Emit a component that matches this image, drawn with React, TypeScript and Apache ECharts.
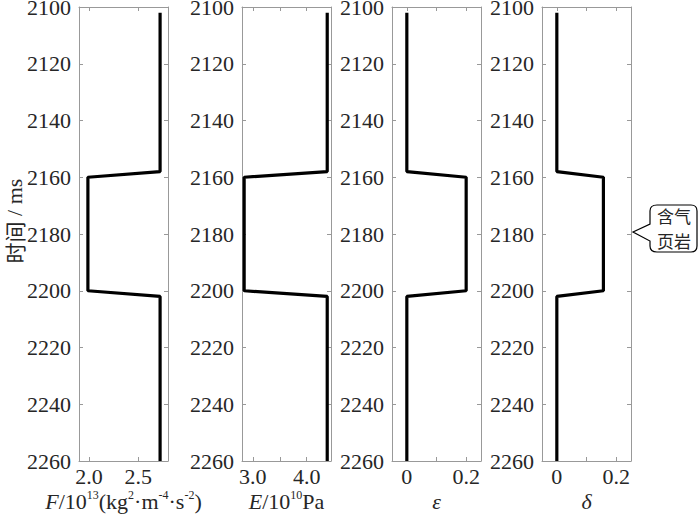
import React, { useEffect, useRef } from "react";
import * as echarts from "echarts";

const timeMs = [2102, 2158, 2160, 2200, 2202, 2260];
const fValues = [2.72, 2.72, 1.99, 1.99, 2.72, 2.72];
const eValues = [4.38, 4.38, 2.84, 2.84, 4.38, 4.38];
const epsValues = [0, 0, 0.2, 0.2, 0, 0];
const deltaValues = [0, 0, 0.157, 0.157, 0, 0];

const yTicks = { min: 2100, max: 2260, interval: 20 };

const panelRanges = [
  [1.9, 2.8],
  [2.8, 4.45],
  [-0.05, 0.25],
  [-0.05, 0.25],
];
const panelTicks = [
  [2.0, 2.5],
  [3.0, 3.5, 4.0],
  [0, 0.1, 0.2],
  [0, 0.1, 0.2],
];
const panelLabels = [
  [2.0, 2.5],
  [3.0, 4.0],
  [0, 0.2],
  [0, 0.2],
];
const labelDigits = [1, 1, -1, -1];
const panelNames = [
  "{i|F}{n|/10}{s|13}{n|(kg}{s|2}{n|·m}{s|-4}{n|·s}{s|-2}{n|)}",
  "{i|E}{n|/10}{s|10}{n|Pa}",
  "{i|ε}",
  "{i|δ}",
];
const panelSeries = [fValues, eValues, epsValues, deltaValues];
const gridLefts = [79, 242, 392, 542];

const SERIF = "'Liberation Serif', 'Times New Roman', serif";
const CJK = "Noto Sans CJK SC";
const FRAME = "#999";
const TEXT = "#262626";

const calloutPath =
  "M657,205 H691 Q697,205 697,211 V246 Q697,252 691,252 H657 Q650,252 650,246 V241 L633,232 L650,224 V211 Q650,205 657,205 Z";

export default function App() {
  const ref = useRef<HTMLDivElement>(null);
  useEffect(() => {
    if (!ref.current) return;
    try {
      echarts.graphic.registerShape("callout", echarts.graphic.extendPath(calloutPath, {}));
    } catch (e) {}
    const chart = echarts.init(ref.current, null, { renderer: "svg" });
    const grids: any[] = [];
    const xAxes: any[] = [];
    const yAxes: any[] = [];
    const series: any[] = [];
    const rich = {
      i: { fontFamily: SERIF, fontSize: 22, fontStyle: "italic", color: TEXT, lineHeight: 24, verticalAlign: "middle" },
      n: { fontFamily: SERIF, fontSize: 22, color: TEXT, lineHeight: 24, verticalAlign: "middle" },
      s: { fontFamily: SERIF, fontSize: 12, color: TEXT, lineHeight: 14, verticalAlign: "top" },
    };
    for (let k = 0; k < 4; k++) {
      grids.push({
        left: gridLefts[k],
        top: 7,
        width: 89,
        height: 454,
        show: false,
        containLabel: false,
        outerBoundsMode: "none",
      });
      const d = labelDigits[k];
      const fmt = (v: number) => (d > 0 ? v.toFixed(d) : String(Math.round(v * 10) / 10));
      xAxes.push({
        gridIndex: k,
        type: "value",
        position: "bottom",
        min: panelRanges[k][0],
        max: panelRanges[k][1],
        axisLine: { show: true, onZero: false, lineStyle: { color: FRAME, width: 1 } },
        axisTick: { show: true, inside: true, length: 4, customValues: panelTicks[k], lineStyle: { color: FRAME } },
        axisLabel: {
          show: true,
          customValues: panelLabels[k],
          formatter: fmt,
          fontFamily: SERIF,
          fontSize: 22,
          color: TEXT,
          margin: 4,
        },
        splitLine: { show: false },
        name: panelNames[k],
        nameLocation: "middle",
        nameGap: 28,
        nameMoveOverlap: false,
        nameTextStyle: { rich, fontFamily: SERIF, fontSize: 22, color: TEXT },
      });
      xAxes.push({
        gridIndex: k,
        type: "value",
        position: "top",
        min: panelRanges[k][0],
        max: panelRanges[k][1],
        axisLine: { show: true, onZero: false, lineStyle: { color: FRAME, width: 1 } },
        axisTick: { show: true, inside: true, length: 4, customValues: panelTicks[k], lineStyle: { color: FRAME } },
        axisLabel: { show: false },
        splitLine: { show: false },
      });
      yAxes.push({
        gridIndex: k,
        type: "value",
        position: "left",
        inverse: true,
        min: yTicks.min,
        max: yTicks.max,
        interval: yTicks.interval,
        axisLine: { show: true, onZero: false, lineStyle: { color: FRAME, width: 1 } },
        axisTick: { show: true, inside: true, length: 4, lineStyle: { color: FRAME } },
        axisLabel: {
          show: true,
          fontFamily: SERIF,
          fontSize: 22,
          color: TEXT,
          margin: 8,
          showMinLabel: true,
          showMaxLabel: true,
          formatter: (v: number) => String(v),
        },
        splitLine: { show: false },
      });
      yAxes.push({
        gridIndex: k,
        type: "value",
        position: "right",
        inverse: true,
        min: yTicks.min,
        max: yTicks.max,
        interval: yTicks.interval,
        axisLine: { show: true, onZero: false, lineStyle: { color: FRAME, width: 1 } },
        axisTick: { show: true, inside: true, length: 4, lineStyle: { color: FRAME } },
        axisLabel: { show: false },
        splitLine: { show: false },
      });
      series.push({
        type: "line",
        xAxisIndex: k * 2,
        yAxisIndex: k * 2,
        data: panelSeries[k].map((v, j) => [v, timeMs[j]]),
        symbol: "none",
        lineStyle: { color: "#000", width: 3.2 },
        z: 5,
      });
    }
    chart.setOption({
      animation: false,
      backgroundColor: "#fff",
      textStyle: { fontFamily: SERIF },
      grid: grids,
      xAxis: xAxes,
      yAxis: yAxes,
      series,
      graphic: [
        {
          type: "text",
          x: 14,
          y: 221,
          rotation: Math.PI / 2,
          style: {
            text: "{c|时间}{n| / ms}",
            align: "center",
            verticalAlign: "middle",
            rich: {
              c: { fontFamily: CJK, fontSize: 21, lineHeight: 22, fill: TEXT },
              n: { fontFamily: SERIF, fontSize: 22, lineHeight: 22, fill: TEXT },
            },
          },
        },
        {
          type: "callout",
          x: 0,
          y: 0,
          style: { fill: "#fff", stroke: "#000", lineWidth: 1.2 },
        },
        {
          type: "text",
          x: 674,
          y: 215,
          style: { text: "含气", align: "center", verticalAlign: "middle", fontFamily: CJK, fontSize: 17, lineHeight: 17, fill: TEXT },
        },
        {
          type: "text",
          x: 674,
          y: 240,
          style: { text: "页岩", align: "center", verticalAlign: "middle", fontFamily: CJK, fontSize: 17, lineHeight: 17, fill: TEXT },
        },
      ],
    });
    return () => chart.dispose();
  }, []);
  return (
    <div
      ref={ref}
      style={{ position: "fixed", left: 0, top: 0, width: 700, height: 515, background: "#fff" }}
    />
  );
}
